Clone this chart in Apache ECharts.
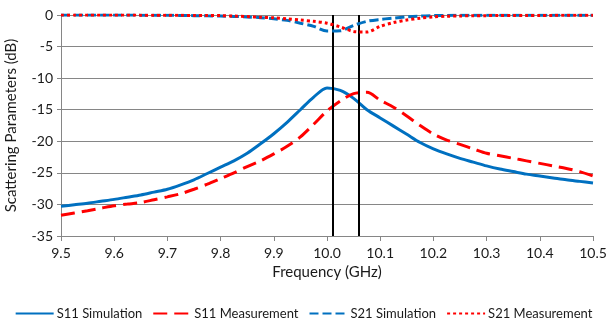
<!DOCTYPE html>
<html>
<head>
<meta charset="utf-8">
<script src="https://cdn.jsdelivr.net/npm/echarts@6/dist/echarts.min.js"></script>
<style>html,body{margin:0;padding:0;background:#fff}#c{width:607px;height:326px}</style>
</head>
<body>
<div id="c"></div>
<script>
var freq = [9.5, 9.525, 9.55, 9.575, 9.6, 9.625, 9.65, 9.675, 9.7, 9.725, 9.75, 9.775, 9.8, 9.825, 9.85, 9.875, 9.9, 9.925, 9.95, 9.975, 10.0, 10.025, 10.05, 10.075, 10.1, 10.125, 10.15, 10.175, 10.2, 10.225, 10.25, 10.275, 10.3, 10.325, 10.35, 10.375, 10.4, 10.425, 10.45, 10.475, 10.5];
var s11Sim = [-30.3, -30.05, -29.8, -29.5, -29.2, -28.85, -28.5, -28.05, -27.6, -26.9, -26.1, -25.1, -24.1, -23.1, -21.9, -20.4, -18.8, -17.0, -15.0, -13.0, -11.55, -11.95, -13.2, -15.0, -16.3, -17.6, -18.9, -20.2, -21.2, -22.0, -22.7, -23.3, -23.9, -24.4, -24.8, -25.2, -25.5, -25.8, -26.1, -26.35, -26.6];
var s11Meas = [-31.7, -31.35, -31.0, -30.6, -30.2, -29.95, -29.7, -29.25, -28.8, -28.3, -27.6, -26.8, -25.9, -25.0, -24.0, -23.1, -22.0, -20.8, -19.3, -17.3, -15.2, -13.6, -12.45, -12.25, -13.5, -14.6, -16.0, -17.5, -18.85, -19.8, -20.5, -21.2, -21.9, -22.3, -22.7, -23.1, -23.5, -23.9, -24.3, -24.8, -25.5];
var s21Sim = [0, 0, 0, 0, 0, 0, -0.02, -0.03, -0.05, -0.07, -0.1, -0.13, -0.16, -0.22, -0.3, -0.42, -0.6, -0.85, -1.3, -1.8, -2.55, -2.5, -1.65, -1.0, -0.7, -0.5, -0.3, -0.16, -0.1, -0.07, -0.05, -0.04, -0.03, -0.03, -0.02, -0.02, -0.02, -0.02, -0.02, -0.02, -0.02];
var s21Meas = [0, 0, 0, 0, 0, -0.01, -0.02, -0.03, -0.04, -0.05, -0.07, -0.08, -0.1, -0.17, -0.25, -0.35, -0.45, -0.6, -0.8, -1.0, -1.3, -1.9, -2.6, -2.7, -1.8, -1.2, -0.8, -0.5, -0.3, -0.2, -0.15, -0.12, -0.1, -0.09, -0.08, -0.07, -0.06, -0.06, -0.05, -0.05, -0.05];
var markerFreqs = [10.01, 10.064];
var seriesNames = ['S11 Simulation', 'S11 Measurement', 'S21 Simulation', 'S21 Measurement'];
var xTicks = [9.5, 10.5, 0.1];
var yTicks = [-35, 0, 5];

function pairs(v) { return freq.map(function (f, i) { return [f, v[i]]; }); }
var FONT = 'Lato';
var TXT = '#1a1a1a';
var blue = '#0070C0', red = '#FF0000';
var styles = [
  { color: blue, type: 'solid' },
  { color: red, type: [14, 7] },
  { color: blue, type: [9, 4] },
  { color: red, type: [3, 3] }
];
var vals = [s11Sim, s11Meas, s21Sim, s21Meas];
var series = vals.map(function (v, i) {
  return {
    name: seriesNames[i], type: 'line', data: pairs(v), smooth: 0.3,
    showSymbol: false, symbol: 'none', z: 3 + i,
    lineStyle: { color: styles[i].color, width: 3, type: styles[i].type },
    itemStyle: { color: styles[i].color }
  };
});
series[0].markLine = {
  silent: true, symbol: 'none', label: { show: false },
  lineStyle: { color: '#000', width: 2, type: 'solid' },
  data: markerFreqs.map(function (f) { return { xAxis: f }; })
};
var chart = echarts.init(document.getElementById('c'));
chart.setOption({
  animation: false,
  grid: { left: 61, right: 14, top: 15, bottom: 90, containLabel: false, outerBoundsMode: 'none' },
  legend: {
    bottom: 1, left: 'center', itemWidth: 38, itemHeight: 12, itemGap: 10,
    textStyle: { fontFamily: FONT, fontSize: 13, color: TXT, padding: [0, 0, 0, -2] },
    itemStyle: { opacity: 0 },
    data: seriesNames
  },
  xAxis: {
    type: 'value', min: xTicks[0], max: xTicks[1], interval: xTicks[2],
    name: 'Frequency (GHz)', nameLocation: 'middle', nameGap: 28,
    nameTextStyle: { fontFamily: FONT, fontSize: 15, color: TXT },
    axisLine: { show: true, onZero: false, lineStyle: { color: '#868686', width: 1 } },
    axisTick: { show: true, length: 5, inside: false, lineStyle: { color: '#868686' } },
    axisLabel: { fontFamily: FONT, fontSize: 14, color: TXT, margin: 10, formatter: function (v) { return v.toFixed(1); } },
    splitLine: { show: false }
  },
  yAxis: {
    type: 'value', min: yTicks[0], max: yTicks[1], interval: yTicks[2],
    name: 'Scattering Parameters (dB)', nameLocation: 'middle', nameGap: 42, nameRotate: 90,
    nameTextStyle: { fontFamily: FONT, fontSize: 15, color: TXT },
    axisLine: { show: true, lineStyle: { color: '#868686', width: 1 } },
    axisTick: { show: true, length: 4, inside: false, lineStyle: { color: '#868686' } },
    axisLabel: { fontFamily: FONT, fontSize: 14, color: TXT, margin: 8 },
    splitLine: { show: true, lineStyle: { color: '#868686', width: 1 } }
  },
  series: series
});
</script>
</body>
</html>
